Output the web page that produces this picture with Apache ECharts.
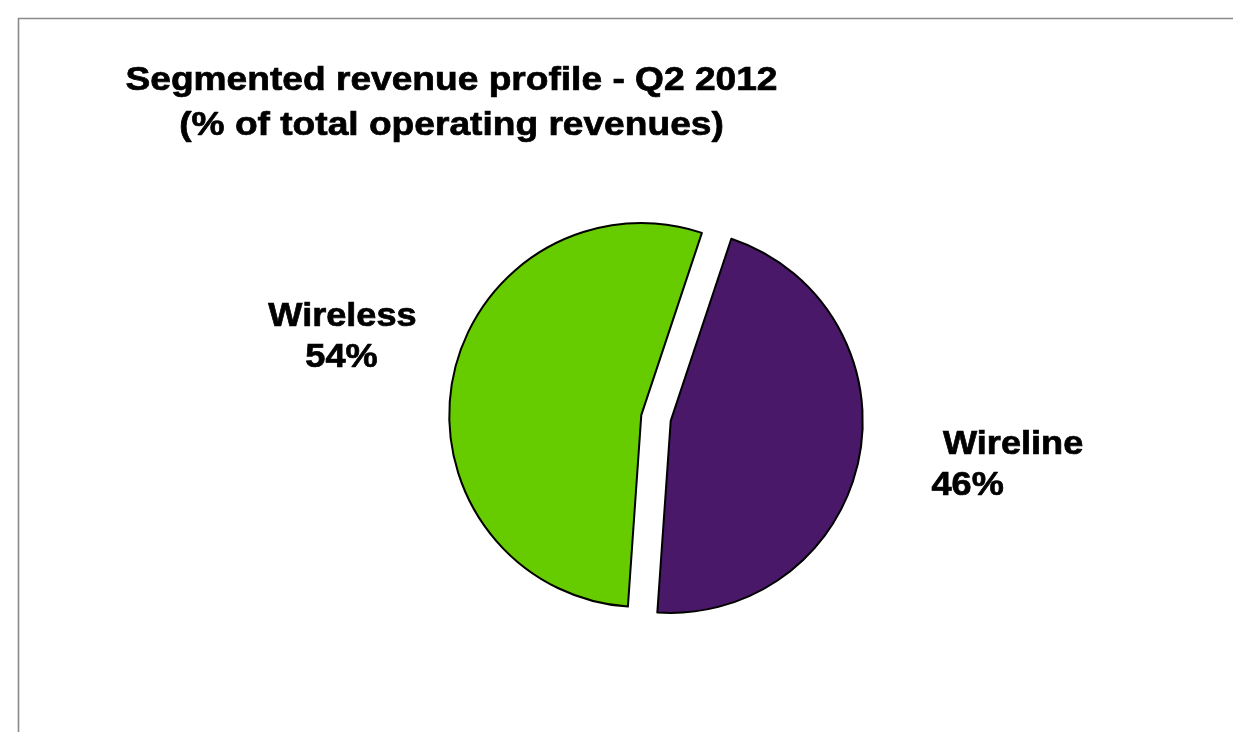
<!DOCTYPE html>
<html>
<head>
<meta charset="utf-8">
<script src="https://cdn.jsdelivr.net/npm/echarts@6/dist/echarts.min.js"></script>
<style>
html,body{margin:0;padding:0;background:#fff;}
#chart{width:1233px;height:732px;}
</style>
</head>
<body>
<div id="chart"></div>
<script>
// ---- data ----
var titleLines = ['Segmented revenue profile - Q2 2012', '(% of total operating revenues)'];
var categories = ['Wireline', 'Wireless'];
var values = [46, 54];
var colors = ['#4A1868', '#66CC00'];

// ---- layout (not data) ----
var labelPos = {
  'Wireline': {x: 943, y1: 445, y2: 486, align: 'left', dx2: -11.5},
  'Wireless': {x: 342.5, y1: 317, y2: 358, align: 'center', dx2: -1}
};
var FONT = '"Liberation Sans", Arial, Helvetica, sans-serif';

var chart = echarts.init(document.getElementById('chart'), null, {renderer: 'canvas'});

var graphics = [
  {
    type: 'polyline', silent: true,
    shape: {points: [[18.5, 732], [18.5, 18.5], [1233, 18.5]]},
    style: {stroke: '#8a8a8a', lineWidth: 1.6, fill: null}
  }
];
function txt(x, y, sx, text, align) {
  return {
    type: 'text', x: x, y: y, scaleX: sx,
    style: {text: text, x: 0, y: 0, align: align, verticalAlign: 'middle',
      font: 'bold 33px ' + FONT, fill: '#000', stroke: '#000', lineWidth: 0.7}
  };
}
titleLines.forEach(function (t, i) {
  graphics.push(txt(451.5, 80.5 + i * 45.5, 1.125, t, 'center'));
});
categories.forEach(function (c, i) {
  var p = labelPos[c];
  graphics.push(txt(p.x, p.y1, 1.095, c, p.align));
  graphics.push(txt(p.x + p.dx2, p.y2, 1.095, values[i] + '%', p.align));
});

chart.setOption({
  animation: false,
  backgroundColor: '#fff',
  graphic: graphics,
  series: [{
    type: 'pie',
    center: [656, 418],
    radius: 192,
    startAngle: 71.6,
    clockwise: true,
    selectedMode: 'multiple',
    selectedOffset: 15,
    label: {show: false},
    labelLine: {show: false},
    emphasis: {disabled: true},
    itemStyle: {borderColor: '#000', borderWidth: 2},
    data: categories.map(function (c, i) {
      return {name: c, value: values[i], selected: true, itemStyle: {color: colors[i]}};
    })
  }]
});
</script>
</body>
</html>
